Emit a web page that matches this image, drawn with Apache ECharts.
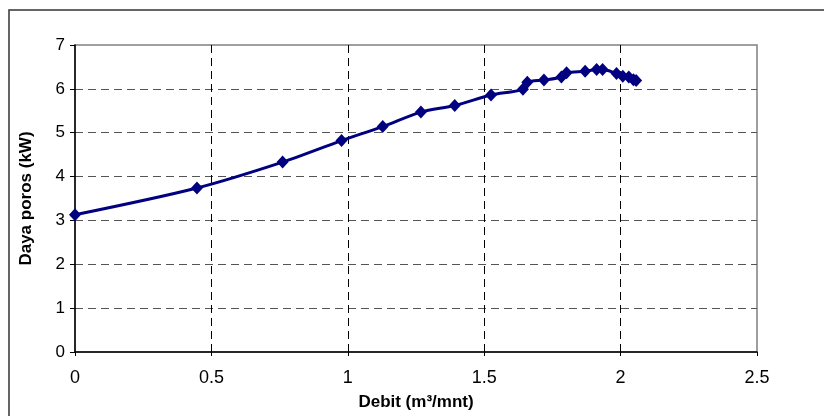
<!DOCTYPE html>
<html>
<head>
<meta charset="utf-8">
<script src="https://cdn.jsdelivr.net/npm/echarts@6/dist/echarts.min.js"></script>
<style>html,body{margin:0;padding:0;background:#fff}#c{width:824px;height:416px}</style>
</head>
<body>
<div id="c"></div>
<script>
var debit = [0, 0.447, 0.761, 0.977, 1.128, 1.268, 1.392, 1.525, 1.642, 1.658, 1.719, 1.783, 1.802, 1.870, 1.912, 1.934, 1.985, 2.008, 2.030, 2.047, 2.057];
var dayaPoros = [3.13, 3.74, 4.33, 4.82, 5.14, 5.47, 5.62, 5.86, 5.99, 6.15, 6.20, 6.27, 6.37, 6.40, 6.44, 6.44, 6.35, 6.29, 6.27, 6.21, 6.19];
var xTicks = [0, 0.5, 1, 1.5, 2, 2.5];
var yTicks = [0, 1, 2, 3, 4, 5, 6, 7];

var chart = echarts.init(document.getElementById('c'));
var points = debit.map(function (d, i) { return [d, dayaPoros[i]]; });
var fam = 'Liberation Sans, Arial, sans-serif';
chart.setOption({
  animation: false,
  backgroundColor: '#fff',
  graphic: [{
    type: 'rect', z: -1,
    shape: { x: 9, y: 10, width: 840, height: 430 },
    style: { fill: 'none', stroke: '#333', lineWidth: 1.5 }
  }],
  grid: { left: 75, right: 67, top: 45, bottom: 64, show: true, borderColor: '#808080', borderWidth: 1.5 },
  xAxis: {
    type: 'value', min: xTicks[0], max: xTicks[xTicks.length - 1], interval: 0.5,
    name: 'Debit (m³/mnt)', nameLocation: 'middle', nameGap: 42,
    nameTextStyle: { fontFamily: fam, fontWeight: 'bold', fontSize: 17, color: '#000' },
    axisLine: { lineStyle: { color: '#000', width: 1.5 } },
    axisTick: { show: true, length: 4, lineStyle: { color: '#000' } },
    axisLabel: { fontFamily: fam, fontSize: 18, color: '#000', margin: 17 },
    splitLine: { show: true, showMinLine: false, showMaxLine: false, lineStyle: { color: '#000', type: [8, 5], width: 1 } }
  },
  yAxis: {
    type: 'value', min: yTicks[0], max: yTicks[yTicks.length - 1], interval: 1,
    name: 'Daya poros (kW)', nameLocation: 'middle', nameGap: 40,
    nameTextStyle: { fontFamily: fam, fontWeight: 'bold', fontSize: 17, color: '#000' },
    axisLine: { show: true, lineStyle: { color: '#000', width: 1.5 } },
    axisTick: { show: true, length: 5, lineStyle: { color: '#000' } },
    axisLabel: { fontFamily: fam, fontSize: 17, color: '#000', margin: 10 },
    splitLine: { show: true, showMinLine: false, showMaxLine: false, lineStyle: { color: '#555', type: [8, 5], width: 1 } }
  },
  series: [{
    type: 'line',
    data: points,
    smooth: 0.3,
    symbol: 'diamond',
    symbolSize: [12, 13],
    lineStyle: { color: '#000080', width: 3 },
    itemStyle: { color: '#000080' }
  }]
});
</script>
</body>
</html>
